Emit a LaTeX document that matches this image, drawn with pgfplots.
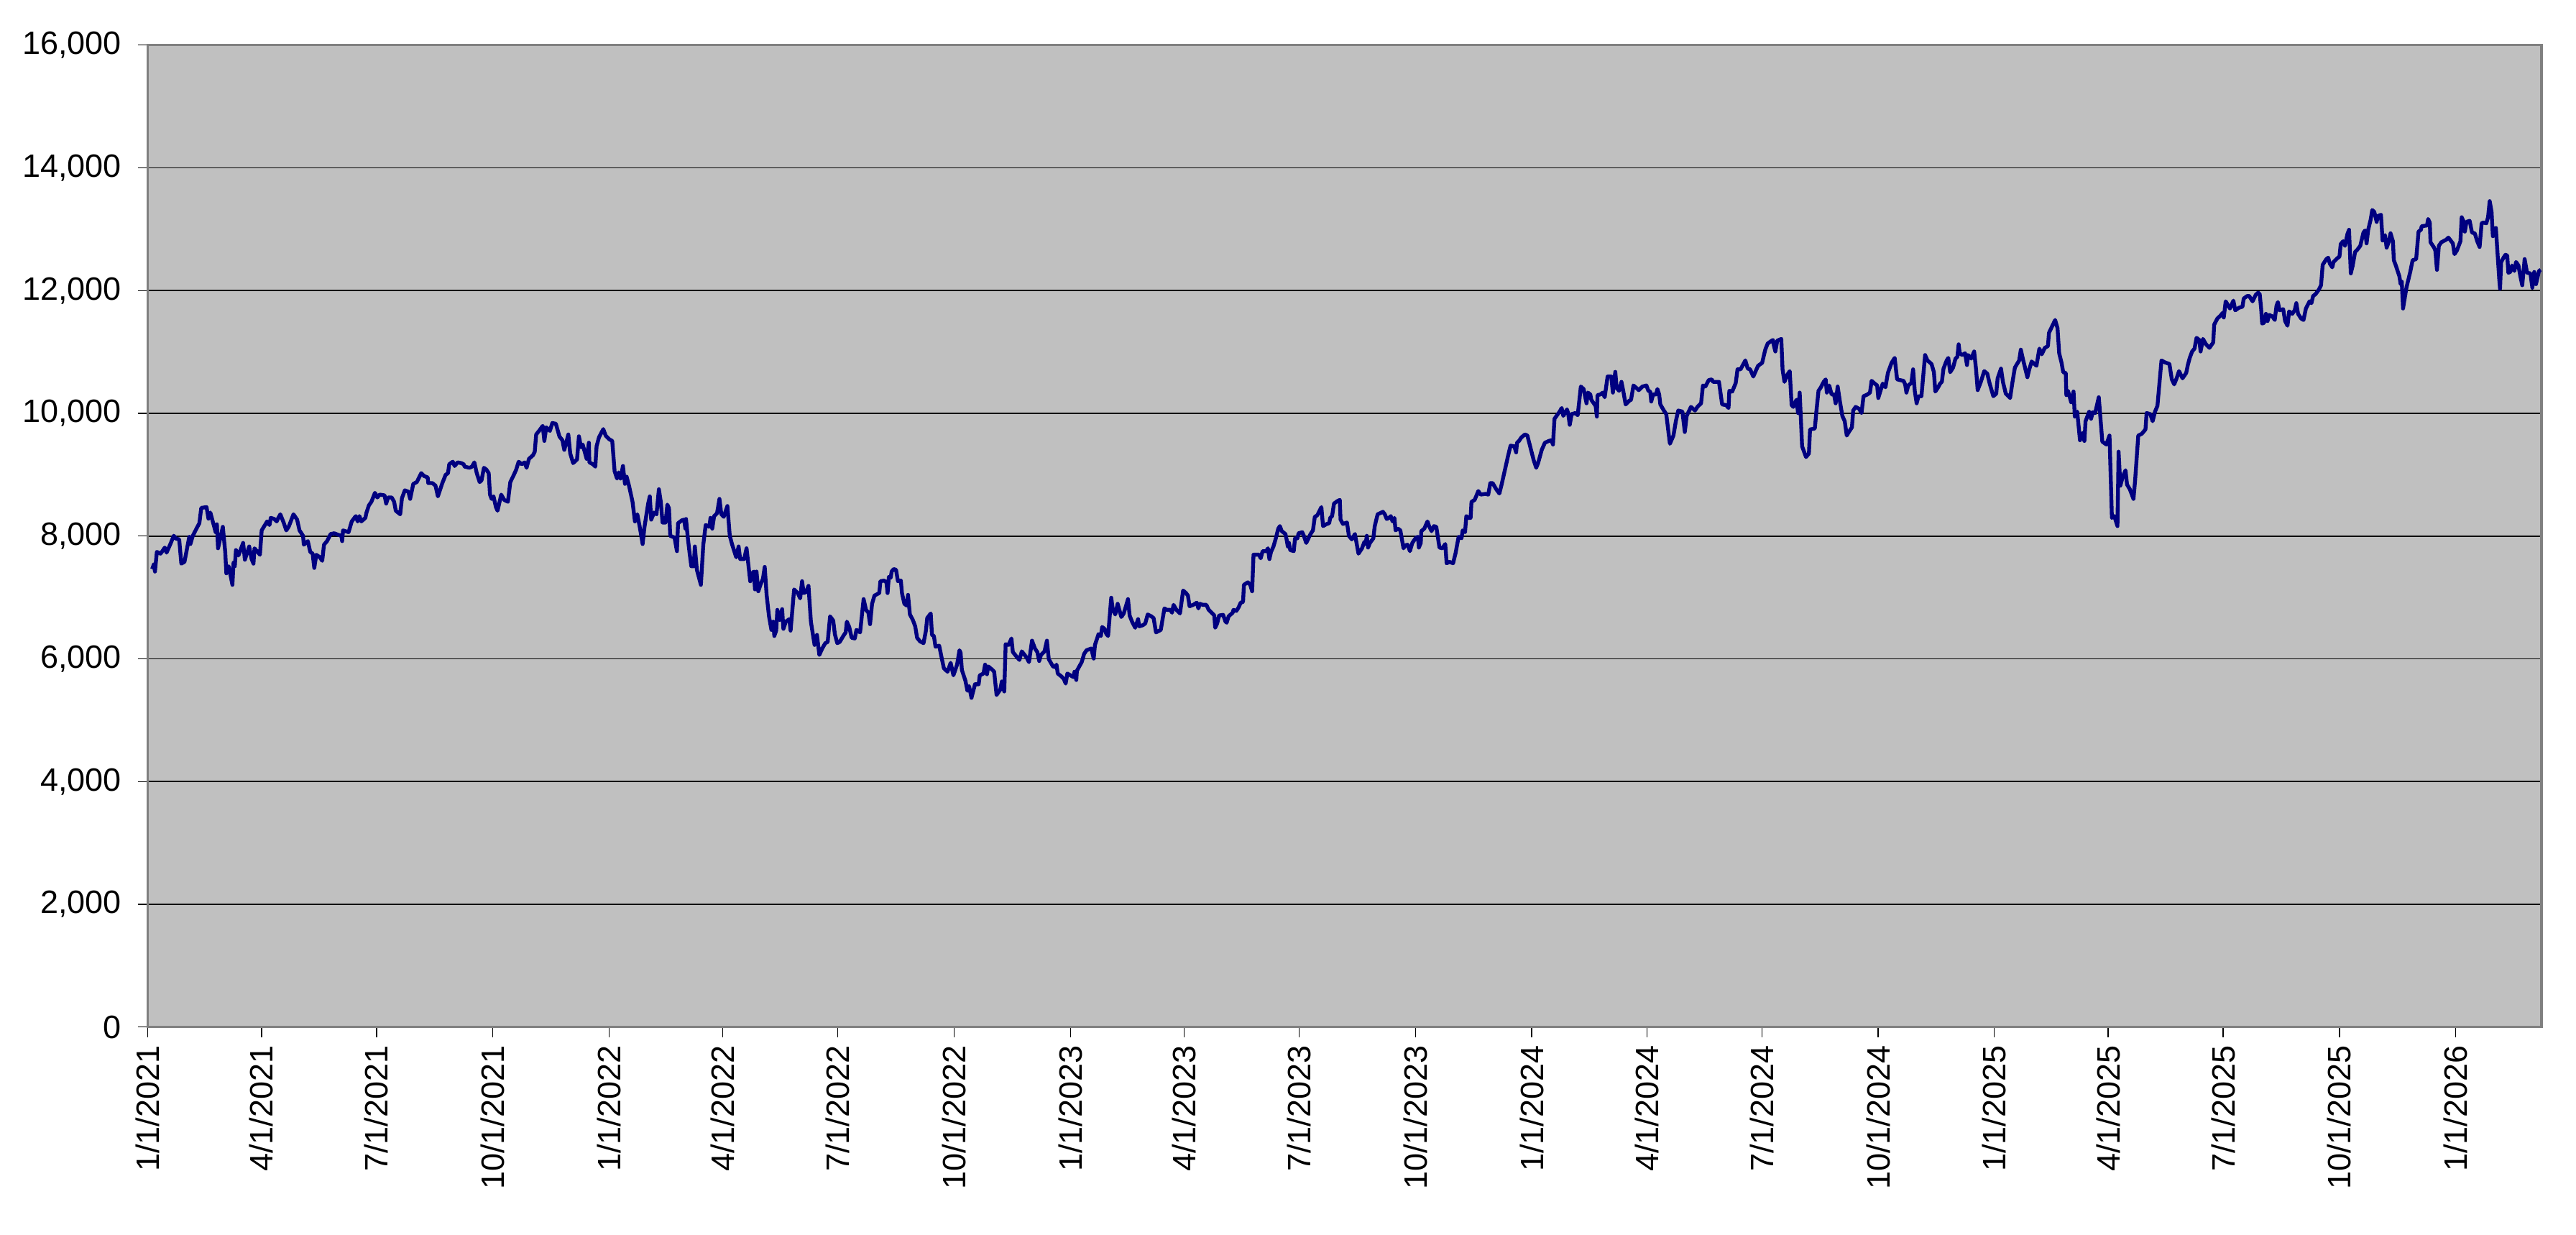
\documentclass[border=0pt]{standalone}
\usepackage{pgfplots}
\pgfplotsset{compat=1.18}
\usepackage{pgfplotstable}
\usepackage{fontspec}
\setmainfont{Liberation Sans}
\definecolor{plotbg}{HTML}{C0C0C0}
\definecolor{framegray}{HTML}{808080}
\definecolor{navyline}{HTML}{000080}
\pgfplotstableread{
day value
3.5 7463
4.8 7539
5.7 7422
7.2 7743
10.1 7714
11.6 7755
13.5 7813
14.9 7731
17.7 7860
20.6 8005
22.4 7959
24.9 7947
26.6 7551
29.1 7580
32.9 7988
33.8 7871
35.7 8005
38.6 8122
40.9 8210
42.4 8460
46.6 8472
48.1 8285
49.6 8384
51.9 8210
53.8 8064
54.8 8192
55.7 7801
57.6 7976
59.5 8151
61.4 7743
62.3 7393
64.2 7509
67.1 7206
68 7568
69 7509
69.9 7772
71.9 7684
75.6 7889
77 7615
80.4 7831
82.3 7627
83.8 7551
84.6 7801
87 7743
88.9 7696
90.3 8093
94.6 8239
96.5 8180
97.5 8297
100.3 8279
102.2 8239
103.5 8297
105.1 8355
107.9 8210
109.8 8093
111.7 8151
115.5 8355
118.4 8268
120.3 8093
123.1 8005
123.7 7860
126.9 7918
128.8 7743
130.7 7714
132 7481
133.6 7696
136.4 7655
138.3 7597
139.7 7860
142.1 7918
145 8034
147.8 8046
150.7 8023
153.5 8005
154.1 7918
154.8 8093
159.2 8064
161.7 8239
164.9 8326
166.4 8239
167.8 8326
169.3 8239
172.5 8297
173.4 8384
175.3 8501
177.3 8559
180.1 8705
182 8629
183.9 8676
187.7 8664
189 8530
190.5 8629
193.4 8629
195.3 8559
196.6 8414
200.1 8355
201.5 8618
203.8 8746
206.6 8723
208 8606
210.5 8851
213.3 8880
216.8 9026
219 8979
221.9 8956
222.4 8863
225.7 8863
228.1 8822
230 8647
233.3 8851
236.1 8997
238 9026
239 9171
241.8 9212
243.3 9142
245.6 9201
248.5 9189
250.4 9171
251.3 9131
255.1 9113
257 9131
258.9 9201
260.8 9026
263.1 8880
264.6 8909
266.5 9113
268.4 9084
270.3 9026
271.3 8676
272.6 8606
274.1 8647
276 8472
277.3 8414
280.2 8676
282.6 8589
285.5 8559
287.4 8880
290.2 8997
292.1 9084
294 9212
296.5 9171
298.8 9201
300.3 9113
302.2 9259
305.4 9317
306.8 9376
307.9 9656
310.2 9714
313.1 9796
314.4 9551
315.9 9772
318.8 9714
320.7 9842
323.5 9831
326.4 9621
328.7 9562
330.2 9405
332.1 9551
333.4 9656
334.9 9347
337.2 9189
340.3 9248
341.8 9626
343.5 9446
344.8 9492
347.9 9259
349.7 9522
350.1 9201
352.9 9171
354.8 9131
355.8 9463
357.7 9609
361.1 9743
363 9638
365.7 9580
368.2 9551
370.1 9055
372 8938
373.3 9037
374.8 8938
376.7 9142
378.3 8851
379.6 8968
381.5 8822
384.3 8559
386.2 8239
388.1 8355
390 8151
392.3 7871
393.8 8151
396.7 8530
398 8647
399.1 8268
401.4 8384
403.3 8355
405.2 8763
406.7 8559
408.1 8221
410.5 8221
411.9 8513
413.2 8454
414.2 8005
417.6 7976
419.5 7755
420.4 8210
423.3 8256
425.2 8268
426.2 8122
426.7 8279
428.1 7976
429.6 7714
430.9 7509
432.8 7509
433.7 7831
435.3 7451
438.5 7206
440.4 7860
442.3 8180
445.2 8151
446.1 8297
447.5 8122
449 8326
451.3 8373
453.2 8606
454.7 8355
456.6 8314
459.5 8490
461.4 8005
463.3 7860
466.5 7655
468.4 7831
469.6 7627
472.8 7627
474.7 7801
477.6 7264
479.1 7393
480.4 7422
481.4 7131
482.6 7422
484 7101
485.9 7218
487.7 7305
489.1 7498
490.6 7043
492.5 6693
494.4 6472
495.9 6606
496.7 6373
498.2 6460
499.1 6798
501 6635
502.9 6810
503.9 6489
505.8 6606
508.6 6647
509.6 6460
512.4 7131
515.3 7072
517.2 6985
518.7 7265
520 7072
521.9 7090
523.8 7189
525.7 6606
528.6 6227
530.5 6390
532.4 6064
534.7 6169
537.1 6256
539 6274
540.9 6693
543.4 6623
544.7 6402
546.6 6256
548.5 6274
551.4 6373
553.3 6431
554.2 6606
556.1 6519
558 6344
560.5 6332
561.8 6472
564.7 6431
567.5 6973
569.4 6798
571.3 6752
572.6 6565
574.2 6897
576.1 7031
579.9 7072
580.8 7265
583.7 7276
585.6 7247
586.5 7072
587.5 7335
589 7323
589.7 7422
591.3 7463
593.2 7451
594.7 7265
597 7276
597.9 7072
599.8 6897
601.7 6868
602.7 7043
604.2 6723
606.5 6635
608.4 6530
609.9 6344
612.2 6285
615 6256
616.9 6460
617.9 6664
620.7 6740
621.7 6390
623.2 6373
624.5 6198
627.4 6215
629.6 5994
631.1 5848
634 5790
636.5 5935
638.7 5732
641.6 5906
643.5 6140
644.4 6099
645.4 5819
648.2 5644
649.8 5480
651.1 5556
653 5364
655.8 5586
658.7 5586
659.6 5732
662.5 5761
663.8 5906
665.3 5749
666.3 5877
669.1 5830
671 5790
672.9 5411
675.8 5498
677.1 5632
679 5469
680.1 6238
682.4 6227
684.7 6332
685.8 6111
688.1 6052
691 5982
692.9 6122
696.7 6023
698.6 5947
701 6297
703.3 6169
705.2 6111
706.7 5965
708.1 6064
710.9 6122
712.8 6297
714.3 5994
717.6 5877
719.5 5865
720.4 5906
721.4 5761
724.3 5714
726.2 5673
727.7 5597
729 5761
733.8 5703
734.7 5790
736.1 5656
736.6 5807
738.5 5877
740.4 5947
742.3 6081
744.2 6140
748 6169
749.9 6005
750.9 6227
752.8 6344
753.7 6402
755.6 6373
756.6 6519
758.5 6489
760 6402
761.3 6373
763.8 6996
765.1 6798
767 6723
768.9 6897
771.8 6682
773.7 6740
775.6 6868
777.1 6973
778.4 6706
780.3 6606
782.8 6507
785.1 6647
786 6530
788.9 6548
790.8 6577
792.7 6723
795.5 6694
797.4 6664
799.3 6431
803.1 6472
804.4 6635
806 6822
807.9 6798
810.7 6798
812 6752
813.2 6880
815.5 6798
818.3 6740
820.8 7113
823.1 7072
824.6 7031
825.9 6857
828.8 6880
831.6 6915
832.9 6822
834.1 6897
836.4 6880
839.2 6880
841.1 6798
844 6740
845.5 6706
846.2 6507
847.8 6577
849.3 6706
852.5 6717
854.4 6606
855.3 6589
856.9 6694
860.1 6752
860.7 6798
863 6781
864.8 6839
866.4 6915
868.3 6927
869 7207
872.1 7247
874 7207
875.5 7101
876.6 7697
881 7697
882.3 7638
883.8 7755
886.7 7755
888 7801
889.2 7626
890.5 7743
892.4 7830
894.3 7964
896.2 8122
897.5 8163
899 8081
901.9 8034
902.8 7947
903.8 7830
904.7 7889
905.7 7772
908.5 7755
909.5 7964
911.4 7964
912.3 8046
915.2 8064
916.5 8005
918.4 7889
921.8 8034
923.7 8093
925.2 8314
927.1 8338
930.4 8472
931.7 8163
934.7 8198
936.6 8210
937.4 8297
938.9 8326
940.4 8530
943.1 8571
945 8589
945.6 8268
947.5 8198
950.7 8221
952.2 8005
954.5 7947
957 8034
959.8 7714
962.6 7801
964.5 7906
965.5 7871
966.4 8005
967.4 7813
968.9 7889
971.6 7964
972.7 8163
975 8355
979.2 8396
980.7 8355
982.2 8279
984.1 8297
985.4 8326
986.8 8239
988.3 8297
989.2 8093
991.1 8122
993 8093
995.5 7801
996.8 7848
998.7 7860
1000.6 7755
1002.5 7889
1005.4 7976
1006.9 7988
1007.7 7813
1009.2 7889
1009.6 8081
1012 8122
1014.5 8239
1015.8 8163
1017.7 8081
1019.6 8163
1021.5 8151
1024 7813
1026.3 7801
1028.6 7871
1029.7 7557
1032 7580
1034.8 7557
1036.7 7714
1039.2 7988
1041.5 7964
1042.4 8093
1044.3 8064
1045.3 8326
1047.2 8297
1048.7 8297
1049.4 8559
1051.9 8589
1054.8 8734
1056.7 8676
1060.5 8688
1062.7 8676
1064.3 8863
1066.2 8863
1069 8764
1071.5 8694
1073.4 8851
1076.6 9142
1078.5 9317
1080.4 9474
1083.3 9463
1084.8 9364
1085.5 9521
1087.1 9551
1089 9609
1091.8 9656
1093.7 9638
1096.6 9405
1098.8 9230
1100.7 9113
1102.2 9189
1105.1 9405
1107.6 9521
1110.8 9551
1112.7 9562
1114 9492
1115.2 9912
1119.3 10029
1120.9 10087
1122.2 9959
1125.1 10064
1126 10005
1127.3 9813
1128.8 9988
1131.7 10005
1133.6 9970
1136.1 10437
1138.3 10396
1140.6 10163
1141.7 10338
1143.6 10308
1144.4 10221
1146.3 10163
1147.8 10122
1148.8 9947
1149.3 10297
1151.6 10308
1153.5 10338
1155 10262
1157.3 10600
1160.2 10600
1161.5 10338
1163.4 10676
1164.5 10414
1166.4 10367
1168.3 10513
1169.7 10367
1171.6 10145
1174.4 10204
1175.9 10221
1177.8 10454
1180.1 10414
1182 10378
1184.9 10437
1188.1 10454
1189.6 10367
1191.1 10355
1191.9 10192
1193.4 10308
1195.7 10308
1196.8 10396
1198.2 10308
1199.1 10145
1201.9 10046
1203.8 9988
1205.2 9754
1206.7 9504
1209.5 9638
1211.4 9871
1213.3 10046
1216.6 10029
1218.5 9696
1220 9959
1223.4 10105
1226.6 10046
1228.5 10105
1231.4 10163
1232.9 10454
1234.8 10437
1237.5 10542
1239.9 10553
1240.9 10513
1245.6 10513
1248.1 10145
1251.3 10134
1253.2 10087
1253.8 10367
1256.1 10355
1258.9 10495
1260.3 10717
1262.7 10717
1266.5 10862
1268.4 10729
1270.3 10717
1272.8 10600
1276.6 10775
1279.8 10822
1282.3 11038
1284.2 11137
1286.5 11172
1288.4 11195
1288.9 11125
1290.3 11008
1291.8 11184
1295 11212
1296 10717
1297.5 10513
1299.8 10629
1301.7 10688
1303.2 10134
1304.5 10105
1307 10221
1308.3 10005
1309.6 10338
1311.5 9463
1314.6 9288
1316.9 9346
1317.8 9737
1321.6 9754
1322.9 10046
1324.5 10367
1326.4 10425
1328.6 10513
1330.2 10553
1331.1 10338
1333 10454
1334.9 10308
1336.8 10308
1338.1 10163
1339.7 10437
1341.5 10192
1343.4 9959
1345.3 9871
1346.9 9638
1349.1 9714
1351 9772
1352 10046
1353.9 10105
1356.7 10075
1358.6 10005
1360.2 10279
1363.4 10308
1365.3 10338
1366.6 10530
1369.1 10484
1371 10454
1371.9 10250
1373.8 10378
1375.4 10484
1377.6 10425
1379.5 10658
1382.4 10822
1384.9 10903
1386.8 10554
1389 10542
1391.9 10530
1393.2 10472
1394.2 10338
1395.7 10454
1398.1 10495
1399.5 10717
1400.8 10367
1402.3 10163
1403.8 10279
1406.1 10279
1409 10950
1410.9 10862
1414.1 10804
1416 10670
1417.1 10355
1419.4 10425
1420.9 10484
1422.3 10513
1423.6 10729
1426.1 10862
1427.4 10903
1428.9 10670
1431.2 10746
1433.1 10892
1434.6 10921
1435.6 11125
1436.5 10979
1438.4 10950
1440.7 10979
1442.2 10787
1443.1 10950
1445.6 10892
1447.9 11008
1449.4 10717
1450.7 10379
1453.2 10513
1455.9 10688
1458.3 10647
1460.2 10484
1463.1 10279
1465.4 10320
1466.5 10571
1469.2 10729
1470.7 10513
1473 10320
1476.4 10250
1478.3 10513
1480.2 10746
1483.6 10862
1484.9 11038
1486.8 10862
1490.1 10589
1491.6 10717
1493.5 10845
1497.3 10775
1499.6 11055
1501.5 10962
1503.9 11067
1506.4 11096
1507.2 11311
1512.1 11521
1514 11387
1515.3 10979
1517.2 10822
1518.5 10670
1520.5 10658
1521 10297
1522.3 10367
1524.8 10180
1526.7 10355
1527.7 9947
1529.6 10029
1531.8 9562
1533.7 9679
1535.3 9550
1536.2 9871
1539.1 10029
1540.6 9912
1541.9 10017
1543.8 10005
1546.7 10262
1549.5 9539
1552.7 9492
1555.2 9638
1557.1 8297
1559 8326
1561.5 8163
1562.4 9376
1563.8 8822
1565.7 8968
1567.9 9072
1569.1 8839
1571.3 8764
1574.2 8606
1575.5 8909
1578 9638
1580.8 9667
1583.7 9737
1584.6 10005
1587.5 9988
1589.4 9872
1591.3 10029
1593.2 10122
1596.4 10862
1598.9 10833
1602.7 10804
1604.6 10554
1606.5 10472
1608.4 10571
1610.3 10688
1613.1 10571
1616 10658
1617.3 10787
1618.8 10903
1620.7 11008
1622.6 11055
1624.2 11230
1626.4 11195
1627.4 11008
1629.3 11212
1631.7 11125
1634.4 11067
1637.4 11154
1638.2 11446
1640.7 11545
1643.1 11591
1645 11638
1645.8 11562
1647.3 11825
1650.7 11708
1653.4 11836
1654.9 11679
1657.8 11720
1660.6 11737
1661.6 11871
1664.4 11912
1665.9 11912
1668.6 11825
1671.1 11930
1673 11965
1674.3 11941
1675.4 11708
1676.2 11463
1677.7 11475
1679.2 11621
1680.5 11504
1681.9 11603
1684.3 11580
1686.2 11521
1687.6 11755
1688.7 11813
1690 11679
1692.9 11697
1694.4 11504
1696.3 11428
1697.6 11661
1700.1 11621
1702 11679
1703.3 11795
1704.7 11621
1707.1 11545
1709 11521
1710.9 11708
1713.8 11825
1715.3 11795
1716.6 11912
1718.5 11941
1721 12011
1722.9 12087
1724.2 12419
1727.1 12513
1728.6 12536
1729.9 12437
1731.8 12379
1732.8 12466
1735.6 12524
1737.5 12553
1738.5 12758
1740.4 12804
1741.9 12729
1743.8 12921
1745.1 12991
1746.5 12280
1748 12408
1749.9 12630
1751.8 12670
1754 12729
1756.5 12944
1757.8 12979
1759 12769
1760.3 12991
1762.2 13154
1763.5 13312
1765.1 13283
1767 13119
1767.9 13213
1770.4 13236
1771.7 12816
1773.6 12904
1774.9 12700
1776.5 12787
1778 12933
1779.9 12804
1780.6 12495
1782.2 12408
1785 12233
1786 12105
1786.9 12145
1787.9 11708
1790.7 12058
1793.6 12303
1795.5 12495
1798.3 12513
1800.2 12961
1802.1 12991
1802.7 13049
1806.9 13061
1807.8 13166
1809.1 13108
1809.7 12787
1812.5 12700
1813.5 12653
1814.8 12338
1816.3 12729
1818.2 12787
1822 12828
1823.9 12863
1827.4 12769
1828.7 12594
1830.6 12653
1833.4 12804
1834.4 13195
1835.7 13137
1836.9 12961
1838.2 13119
1840.7 13137
1842.6 12944
1844.8 12933
1846.7 12804
1848.6 12711
1850.2 13096
1851.5 13108
1853.9 13096
1855.3 13195
1856.6 13457
1858.1 13283
1859.1 12886
1861.5 13020
1864.2 12175
1864.8 12029
1865.7 12466
1867.6 12536
1869.1 12583
1870.5 12571
1871.4 12291
1872.9 12303
1874.3 12408
1876.2 12320
1877.5 12466
1879.4 12408
1880.9 12233
1882.4 12087
1884.3 12513
1886.2 12291
1888.9 12280
1890.4 12046
1891.9 12303
1893.3 12105
1895.7 12320
1897.1 12338
}\series
\begin{document}
\begin{tikzpicture}
\useasboundingbox (-61.68pt,-86.46pt) rectangle (1013.52pt,428.64pt);
\begin{axis}[
  at={(0,0)}, anchor=south west,
  width=999.12pt, height=409.83pt, scale only axis,
  xmin=0, xmax=1897.7, ymin=0, ymax=16000,
  axis background/.style={fill=plotbg},
  axis line style={draw=framegray, line width=1pt},
  ymajorgrids, grid style={black, line width=0.5pt},
  ytick={0,2000,4000,6000,8000,10000,12000,14000,16000},
  scaled y ticks=false,
  yticklabel style={xshift=-3.3pt, /pgf/number format/fixed, /pgf/number format/precision=0, /pgf/number format/1000 sep={,}},
  xtick={0,90.18,181.36,273.54,365.73,455.91,547.09,639.27,731.46,821.64,912.82,1005.0,1097.18,1188.36,1279.55,1371.73,1463.91,1554.09,1645.27,1737.46,1829.64},
  xticklabels={1/1/2021,4/1/2021,7/1/2021,10/1/2021,1/1/2022,4/1/2022,7/1/2022,10/1/2022,1/1/2023,4/1/2023,7/1/2023,10/1/2023,1/1/2024,4/1/2024,7/1/2024,10/1/2024,1/1/2025,4/1/2025,7/1/2025,10/1/2025,1/1/2026},
  tick align=outside, major tick length=4.2pt,
  tick style={black, line width=0.4pt},
  xtick pos=bottom, ytick pos=left,
  font=\fontsize{13.5}{16}\selectfont,
  ticklabel style={font=\fontsize{13.5}{16}\selectfont},
  xticklabel style={rotate=90, anchor=east},
  /pgf/number format/.cd, fixed, 1000 sep={,}, assume math mode=true,
]
\addplot[navyline, line width=1.6pt, no markers, line join=round] table[x=day,y=value]{\series};
\end{axis}
\end{tikzpicture}
\end{document}
